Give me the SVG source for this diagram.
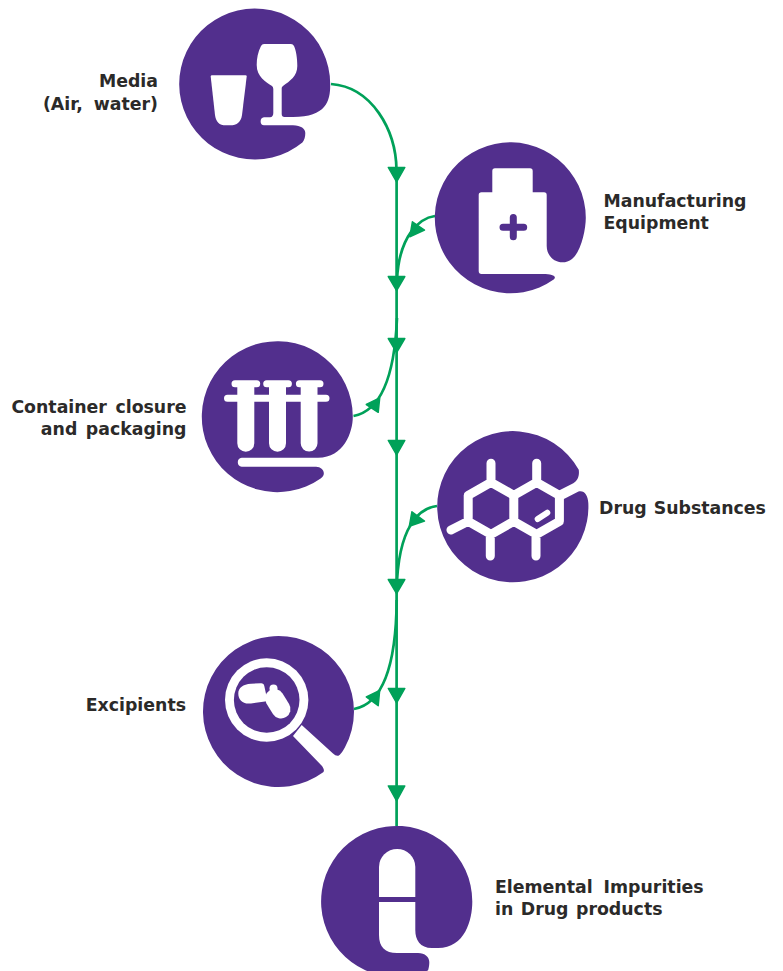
<svg xmlns="http://www.w3.org/2000/svg" width="783" height="971" viewBox="0 0 783 971">
<style>
.p{fill:#522f8d}
.w{fill:#fff}
.ws{fill:none;stroke:#fff;stroke-linecap:round;stroke-linejoin:round}
.c{fill:none;stroke:#00a159;stroke-width:2.7}
.a{fill:#00a159;stroke:#00a159;stroke-width:1.5;stroke-linejoin:round}
text{font-family:"DejaVu Sans",Verdana,sans-serif;font-weight:700;font-size:17.33px;fill:#2b2a29}
</style>
<rect width="783" height="971" fill="#fff"/>
<g id="connectors">
<path class="c" d="M396.6 170V826"/>
<path class="c" d="M331 84C372 87 396 130 396.5 170"/>
<path class="c" d="M435 216C420 218 399 235 397 280"/>
<path class="c" d="M353.5 416C375 412 394 390 397 318"/>
<path class="c" d="M437 506C420 508 398 525 396.7 590"/>
<path class="c" d="M354 709C376 705 396 680 396.7 600"/>
<polygon class="a" points="388.3,167.5 404.8,167.5 396.6,182"/>
<polygon class="a" points="388.3,276.5 404.8,276.5 396.6,290.5"/>
<polygon class="a" points="388.3,338.5 404.8,338.5 396.6,352.5"/>
<polygon class="a" points="388.3,440.5 404.8,440.5 396.6,455"/>
<polygon class="a" points="388.3,579.5 404.8,579.5 396.6,593.5"/>
<polygon class="a" points="388.3,688.5 404.8,688.5 396.6,703"/>
<polygon class="a" points="388.3,786 404.8,786 396.6,801"/>
<polygon class="a" points="412.4,221.8 424.5,230 409.8,236.8"/>
<polygon class="a" points="366.3,404.5 379.7,397.8 378.2,412.3"/>
<polygon class="a" points="411.9,511.8 424.5,521 409.3,526.3"/>
<polygon class="a" points="366.3,697 379.7,690.3 378.2,705.7"/>
</g>
<g id="media">
<path class="p" d="M302.4 142.55A75.5 75.5 0 1 1 330.2 84C330.4 100 327 117 293 117L284.5 117Q281.7 117 281.7 114L281.7 88Q281.7 87 283 86C290 81 297.3 76 297.3 66C297.3 58 296 50 294 46Q293 44 291 44L264 44Q262 44 261 46C258 52 256.7 58 256.7 65C256.7 77 266 82 272 86Q273.3 87 273.3 89L273.3 113Q273.3 117 270 117.3L264 117.3C259.5 117.5 259.5 125.3 264 125.3L293 125.3C301 125.3 305.3 129 305.3 133C305.3 137 304.5 140 302.4 142.55Z"/>
<path class="w" d="M212 75.3H245.5Q246.8 75.3 246.7 76.6L242 115C241 122 237 125.3 230 125.3H226C219 125.3 216 122 215 115L210.7 76.6Q210.7 75.3 212 75.3Z"/>
<text x="158" y="87" text-anchor="end">Media</text>
<text x="158" y="110" text-anchor="end" word-spacing="5">(Air, water)</text>
</g>
<g id="equipment">
<path class="p" d="M554.05 279.36A75.5 75.5 0 1 1 585.8 217.8C585.8 230 581 252 572 259C562 267 546.7 260 546.7 246L546.7 195Q546.7 192.3 544 192.3L532.7 192.3L532.7 171Q532.7 168.3 530 168.3L495 168.3Q492.3 168.3 492.3 171L492.3 192.3L481.5 192.3Q478.7 192.3 478.7 195L478.7 271Q478.7 274 481.5 274L543 274C552 274 557 276 554.05 279.36Z"/>
<path d="M513.3 217.5V236.8M503 227.2H523.7" fill="none" stroke="#522f8d" stroke-width="7" stroke-linecap="round"/>
<text x="603.5" y="207">Manufacturing</text>
<text x="603.5" y="229">Equipment</text>
</g>
<g id="container">
<path class="p" d="M320.65 478.5A75.5 75.5 0 1 1 352.8 416.7C352.8 432 344 457.7 318 457.7L241.7 457.7C236.5 457.7 236.5 466.7 241.7 466.7L316 466.7C323 466.7 327 474 320.65 478.5Z"/>
<path class="w" d="M237.3 382V443.2A8.5 8.5 0 0 0 254.3 443.2V382ZM269 382V443.2A8.5 8.5 0 0 0 286 443.2V382ZM300.7 382V443.2A8.4 8.4 0 0 0 317.5 443.2V382Z"/>
<path class="ws" d="M235 383.7H256.7M266.7 383.7H288.4M299.4 383.7H320M227.5 398.3H326" stroke-width="7"/>
<text x="186.5" y="413" text-anchor="end" word-spacing="2.5">Container closure</text>
<text x="186.5" y="435" text-anchor="end" word-spacing="2.5">and packaging</text>
</g>
<g id="substances">
<path class="p" d="M578.77 469.8A75.6 75.6 0 1 0 588.31 503C588 495 584 490 578.5 491.5L560 501L556 492L573.3 483.3C578 480.5 579.5 476 578.77 469.8Z"/>
<path class="ws" d="M491 482.3L513.8 495.3V521.3L491 534.3L468.2 521.3V495.3ZM536.6 482.3L559.4 495.3V521.3L536.6 534.3L513.8 521.3V495.3ZM491 463.3V482.3M536.7 463.3V482.3M490.3 556V534.3M536 556V534.3M451 530L468.2 521.3" stroke-width="9"/>
<path class="ws" d="M537.7 519L547.3 512.7" stroke-width="6"/>
<text x="599" y="514" word-spacing="1">Drug Substances</text>
</g>
<g id="excipients">
<path class="p" d="M323.19 772.36A75.5 75.5 0 1 1 345.1 747.06C343 751 340 755.5 338.5 755.7Q336 756.5 333 753.5L301.7 725L293 736L322 766C324 769 324.5 771 323.19 772.36Z"/>
<circle class="w" cx="266.7" cy="700" r="41.7"/>
<circle class="p" cx="266.7" cy="700" r="32.8"/>
<path class="w" d="M251 683.7L261 683.3Q263.8 683.2 264.3 686L267 698.5Q267.5 701 265 701.5L251 703.5C242 704.5 238.3 699 238.3 693.5C238.3 688 243 684 251 683.7Z"/>
<path class="ws" d="M274.5 698.5L281 709" stroke-width="19"/>
<circle class="w" cx="273.5" cy="688.5" r="4"/>
<path class="w" d="M271 690H276V697H271Z"/>
<text x="186" y="711" text-anchor="end">Excipients</text>
</g>
<g id="impurities">
<path class="p" d="M428.12 970.26A75.6 75.6 0 1 1 472.3 901.5C472.3 920 465 948 438 948L432 948C420 948 415.3 940 415.3 930L415.3 902L379 902L379 935C379 947 385 953 397 953L418 953C425 953 429.3 957 429.3 962C429.3 965 429 967 428.12 970.26Z"/>
<path class="w" d="M379 897V867A18.15 18.15 0 0 1 415.3 867V897Z"/>
<text x="495" y="893" word-spacing="5">Elemental Impurities</text>
<text x="495" y="915" word-spacing="1.5">in Drug products</text>
</g>
</svg>
